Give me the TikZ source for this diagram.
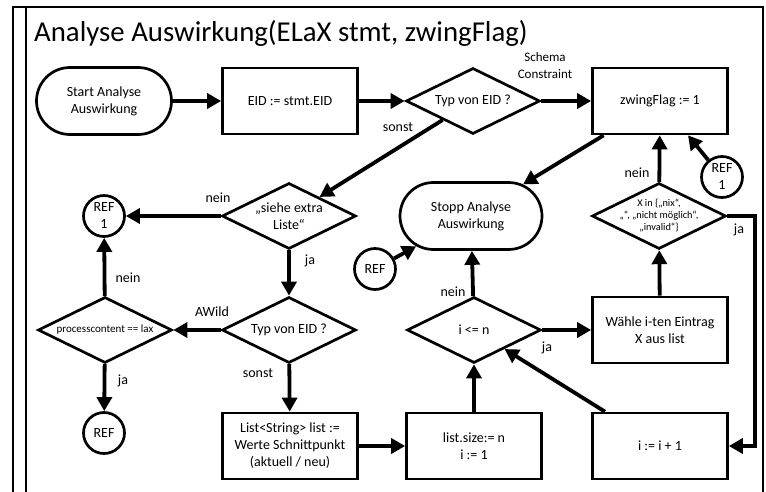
\documentclass[tikz,border=0pt]{standalone}
\usepackage{fontspec}
\setmainfont{Carlito}
\usetikzlibrary{arrows.meta,shapes.geometric,shapes.misc}
\begin{document}
\begin{tikzpicture}[x=1pt,y=-1pt,
  txt/.style={font=\fontsize{14}{17}\selectfont, align=center, inner sep=0pt},
  small/.style={font=\fontsize{11}{12}\selectfont, align=center, inner sep=0pt},
  tiny/.style={font=\fontsize{10.3}{12}\selectfont, align=center, inner sep=0pt},
  box/.style={draw, line width=2.7pt, minimum width=135pt, minimum height=66pt, inner sep=2pt, txt},
  term/.style={draw, rounded rectangle, line width=2.7pt, minimum width=135pt, minimum height=67pt, inner sep=2pt, txt},
  dia/.style={draw, diamond, line width=2.7pt, minimum width=134pt, minimum height=66pt, inner sep=0pt},
  refc/.style={draw, circle, line width=2.7pt, minimum size=41pt, inner sep=0pt, txt},
  arr/.style={line width=3.8pt, -{Triangle[length=14pt,width=15pt]}},
  frame/.style={line width=2.6pt},
  lbl/.style={txt}
]
\useasboundingbox (0,0) rectangle (766,492);
\fill[white] (0,0) rectangle (766,492);
% frame
\draw[frame] (13,492) -- (13,7) -- (763,7) -- (763,492);
\draw[frame] (26,7) -- (26,492);
\node[anchor=west, inner sep=0pt, font=\fontsize{28.8}{32}\selectfont] (title) at (34,33) {Analyse Auswirkung(ELaX stmt, zwingFlag)};

% nodes
\node[term] (start) at (104,101) {Start Analyse\\Auswirkung};
\node[box] (eid) at (290,101) {EID := stmt.EID};
\node[dia, label={[txt]center:{Typ von EID ?}}] (typ1) at (473,101) {};
\node[box] (zwing) at (660,101) {zwingFlag := 1};
\node[dia, label={[txt]center:{„siehe extra\\Liste“}}] (siehe) at (289,216) {};
\node[refc] (ref1a) at (104,216) {REF\\1};
\node[term, minimum width=142pt] (stopp) at (471,216) {Stopp Analyse\\Auswirkung};
\node[refc] (ref2) at (375,269) {REF};
\node[dia, label={[tiny]center:{X in \{„nix“,\\„“, „nicht möglich“,\\„invalid“\}}}] (xdia) at (659,216) {};
\node[refc] (ref1b) at (722,177) {REF\\1};
\node[dia, label={[txt]center:{Typ von EID ?}}] (typ2) at (289,330) {};
\node[dia, label={[small]center:{processcontent == lax}}] (proc) at (105,330) {};
\node[dia, label={[txt]center:{i <= n}}] (ile) at (474,330) {};
\node[box] (waehle) at (660,330) {Wähle i-ten Eintrag\\X aus list};
\node[refc] (ref3) at (104,433) {REF};
\node[box] (list) at (290,446) {List<String> list :=\\Werte Schnittpunkt\\(aktuell / neu)};
\node[box] (size) at (474,446) {list.size:= n\\i := 1};
\node[box] (inc) at (660,446) {i := i + 1};

% connectors
\draw[arr] (start) -- (eid);
\draw[arr] (eid) -- (typ1);
\draw[arr] (typ1) -- (zwing);
\draw[arr] (typ1) -- (siehe);
\draw[arr] (zwing) -- (stopp);
\draw[arr] (siehe) -- (ref1a);
\draw[arr] (siehe) -- (typ2);
\draw[arr] (typ2) -- (proc);
\draw[arr] (proc) -- (ref1a);
\draw[arr] (proc) -- (ref3);
\draw[arr] (typ2) -- (list);
\draw[arr] (list) -- (size);
\draw[arr] (size) -- (ile);
\draw[arr] (ile) -- (stopp);
\draw[arr] (ile) -- (waehle);
\draw[arr] (waehle) -- (xdia);
\draw[arr] (xdia) -- (zwing);
\draw[arr] (ref1b) -- (zwing);
\draw[arr] (ref2) -- (stopp);
\draw[arr] (inc) -- (ile);
\draw[arr] (xdia.east) -- ++(28,0) |- (inc.east);

% labels
\node[lbl, font=\fontsize{13}{17}\selectfont] (l1) at (545,66) {Schema\\Constraint};
\node[lbl] (l2) at (398,127) {sonst};
\node[lbl] (l3) at (218,198) {nein};
\node[lbl] (l4) at (310,261) {ja};
\node[lbl] (l5) at (128,278) {nein};
\node[lbl] (l6) at (212,312) {AWild};
\node[lbl] (l7) at (123,381) {ja};
\node[lbl] (l8) at (258,373) {sonst};
\node[lbl] (l9) at (453,292) {nein};
\node[lbl] (l10) at (547,348) {ja};
\node[lbl] (l11) at (637,173) {nein};
\node[lbl] (l12) at (739,230) {ja};
\end{tikzpicture}
\end{document}
